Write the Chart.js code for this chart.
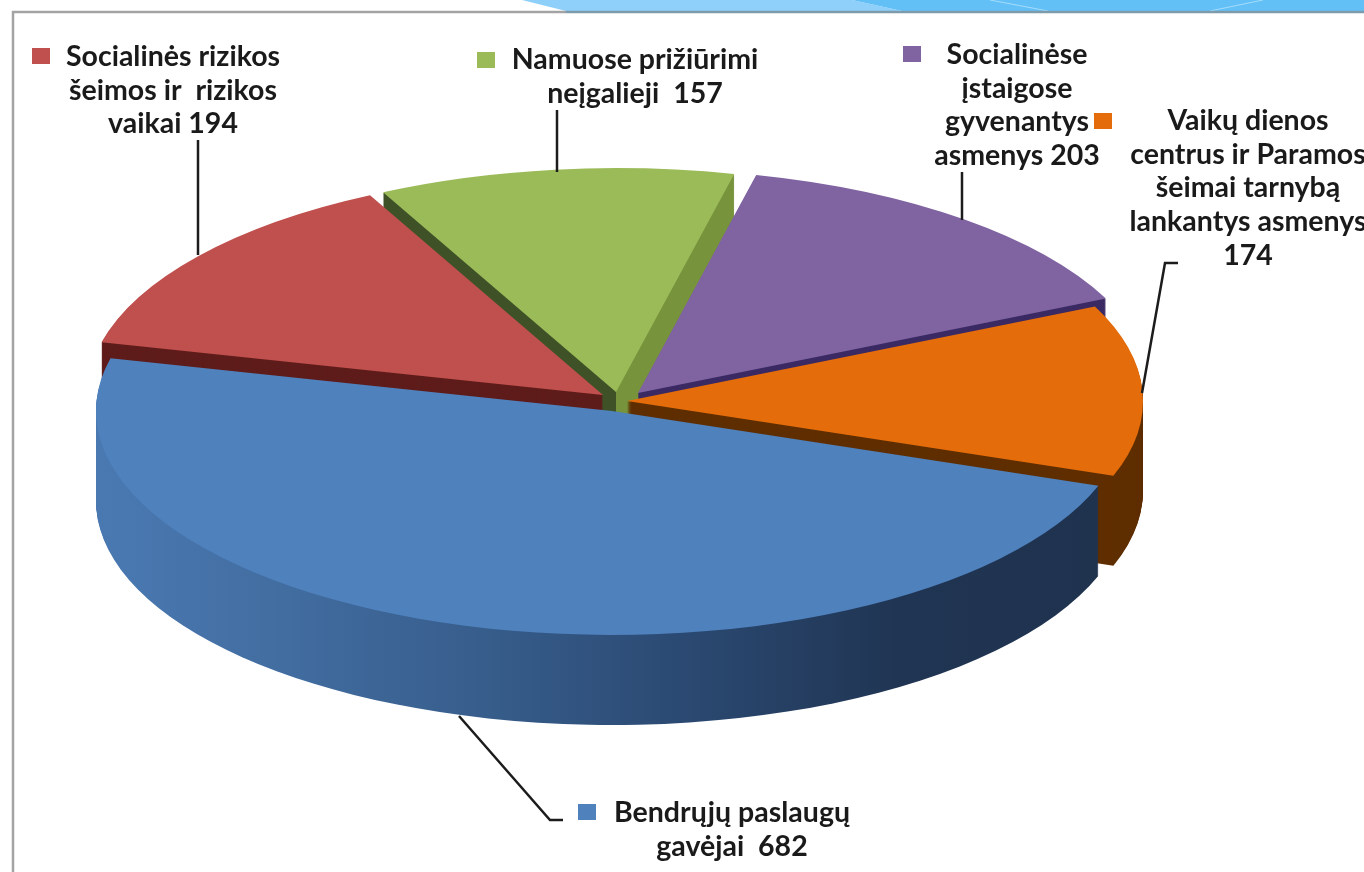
<!DOCTYPE html>
<html lang="lt">
<head>
<meta charset="utf-8">
<title>Paslaugų gavėjai</title>
<script src="https://cdn.jsdelivr.net/npm/chart.js@4/dist/chart.umd.min.js"></script>
<style>
  html, body { margin: 0; background: #fff; overflow: hidden; }
  canvas { display: block; filter: blur(0.5px); }
</style>
</head>
<body>
<canvas id="pie" width="1364" height="872"></canvas>
<script>
const categories = [
  "Bendrųjų paslaugų gavėjai",
  "Socialinės rizikos šeimos ir rizikos vaikai",
  "Namuose prižiūrimi neįgalieji",
  "Socialinėse įstaigose gyvenantys asmenys",
  "Vaikų dienos centrus ir Paramos šeimai tarnybą lankantys asmenys"
];
const values = [682, 194, 157, 203, 174];
const colors = ["#4f81bd", "#c0504d", "#9bbb59", "#8064a2", "#e46c0a"];
const shiftX = [0, -9, 4, 26, 15];
const shiftY = [0, -16, -19, -18, -10];
const wallColors = [null, "#5e1c1a", null, "#3b2a63", "#5f2e00"];
const wallOrder = [2, 3, 1, 4, 0];

const labelLines = [
  ["Bendrųjų paslaugų", "gavėjai  682"],
  ["Socialinės rizikos", "šeimos ir  rizikos", "vaikai 194"],
  ["Namuose prižiūrimi", "neįgalieji  157"],
  ["Socialinėse", "įstaigose", "gyvenantys", "asmenys 203"],
  ["Vaikų dienos", "centrus ir Paramos", "šeimai tarnybą", "lankantys asmenys", "174"]
];
const labelX = [732, 173, 635, 1017, 1248];
const labelY = [813, 57, 60, 55, 121];
const swatchX = [578, 32, 477, 903, 1094];
const swatchY = [804, 48, 52, 46, 113];
const leaders = [
  [[459, 716], [550, 820], [563, 820]],
  [[198, 140], [198, 255]],
  [[557, 110], [557, 172]],
  [[962, 172], [962, 220]],
  [[1178, 263], [1165, 263], [1142, 393]]
];

const squash = 0.434;
const depth = 90;
const lineGap = 33.6;

function wallFill(ctx, i) {
  if (i === 0) {
    const g = ctx.createLinearGradient(96, 0, 1097, 0);
    g.addColorStop(0, "#4a79b2");
    g.addColorStop(0.2, "#416c9f");
    g.addColorStop(0.4, "#365c8a");
    g.addColorStop(0.6, "#2a4870");
    g.addColorStop(0.8, "#203553");
    g.addColorStop(1, "#1f334f");
    return g;
  }
  if (i === 2) {
    const g = ctx.createLinearGradient(606, 0, 616, 0);
    g.addColorStop(0, "#3f5227");
    g.addColorStop(0.99, "#3f5227");
    g.addColorStop(1, "#77933c");
    return g;
  }
  return wallColors[i];
}

const tiltPlugin = {
  id: "tilt",
  afterDatasetsUpdate(chart) {
    // slices pulled apart by hand, the offset option grows their radius too
    chart.getDatasetMeta(0).data.forEach((arc, i) => {
      arc.x += shiftX[i];
      arc.y += shiftY[i] / squash;
    });
  },
  beforeDraw(chart) {
    const ctx = chart.ctx;
    ctx.save();
    ctx.fillStyle = "#fff";
    ctx.fillRect(0, 0, chart.width, chart.height);
    // banner at the top of the slide
    ctx.fillStyle = "#8fd0fb";
    ctx.beginPath();
    ctx.moveTo(522, 0); ctx.lineTo(566, 11); ctx.lineTo(902, 11); ctx.lineTo(852, 0);
    ctx.fill();
    ctx.fillStyle = "#62c0f7";
    ctx.beginPath();
    ctx.moveTo(852, 0); ctx.lineTo(902, 11); ctx.lineTo(1364, 11); ctx.lineTo(1364, 0);
    ctx.fill();
    ctx.strokeStyle = "#a5dcfb";
    ctx.lineWidth = 1;
    ctx.beginPath();
    ctx.moveTo(990, 0); ctx.lineTo(1048, 11);
    ctx.moveTo(1263, 0); ctx.lineTo(1210, 11);
    ctx.stroke();
    // frame
    ctx.strokeStyle = "#a3a3a3";
    ctx.lineWidth = 2.5;
    ctx.beginPath();
    ctx.moveTo(13, 872); ctx.lineTo(13, 12); ctx.lineTo(566, 12);
    ctx.stroke();
    ctx.strokeStyle = "#7d9bab";
    ctx.beginPath();
    ctx.moveTo(566, 12); ctx.lineTo(1364, 12);
    ctx.stroke();
    ctx.restore();
  },
  beforeDatasetsDraw(chart) {
    const ctx = chart.ctx;
    const arcs = chart.getDatasetMeta(0).data;
    ctx.save();
    ctx.translate(0, arcs[0].y);
    ctx.scale(1, squash);
    ctx.translate(0, -arcs[0].y);
    wallOrder.forEach(i => {
      const arc = arcs[i];
      ctx.fillStyle = wallFill(ctx, i);
      for (let d = depth; d > 0; d--) {
        const dy = d / squash;
        ctx.beginPath();
        ctx.moveTo(arc.x, arc.y + dy);
        ctx.arc(arc.x, arc.y + dy, arc.outerRadius, arc.startAngle, arc.endAngle);
        ctx.closePath();
        ctx.fill();
      }
    });
  },
  afterDatasetsDraw(chart) {
    chart.ctx.restore();
  },
  afterDraw(chart) {
    const ctx = chart.ctx;
    ctx.save();
    ctx.strokeStyle = "#1c1c1c";
    ctx.lineWidth = 2.5;
    leaders.forEach(pts => {
      ctx.beginPath();
      pts.forEach((p, k) => k ? ctx.lineTo(p[0], p[1]) : ctx.moveTo(p[0], p[1]));
      ctx.stroke();
    });
    colors.forEach((c, i) => {
      ctx.fillStyle = c;
      ctx.fillRect(swatchX[i], swatchY[i], 18, 16);
    });
    ctx.fillStyle = "#1a1a1a";
    ctx.font = "bold 28.5px Lato";
    ctx.textAlign = "center";
    ctx.textBaseline = "middle";
    labelLines.forEach((lines, i) => {
      lines.forEach((line, k) => ctx.fillText(line, labelX[i], labelY[i] + k * lineGap));
    });
    ctx.restore();
  }
};

new Chart(document.getElementById("pie"), {
  type: "pie",
  data: {
    labels: categories,
    datasets: [{
      data: values,
      backgroundColor: colors,
      borderWidth: 0,
      clip: false
    }]
  },
  options: {
    responsive: false,
    animation: false,
    events: [],
    rotation: 109.5,
    radius: 516,
    layout: { padding: { right: 140, bottom: 50 } },
    plugins: { legend: { display: false }, tooltip: { enabled: false } }
  },
  plugins: [tiltPlugin]
});
</script>
</body>
</html>
